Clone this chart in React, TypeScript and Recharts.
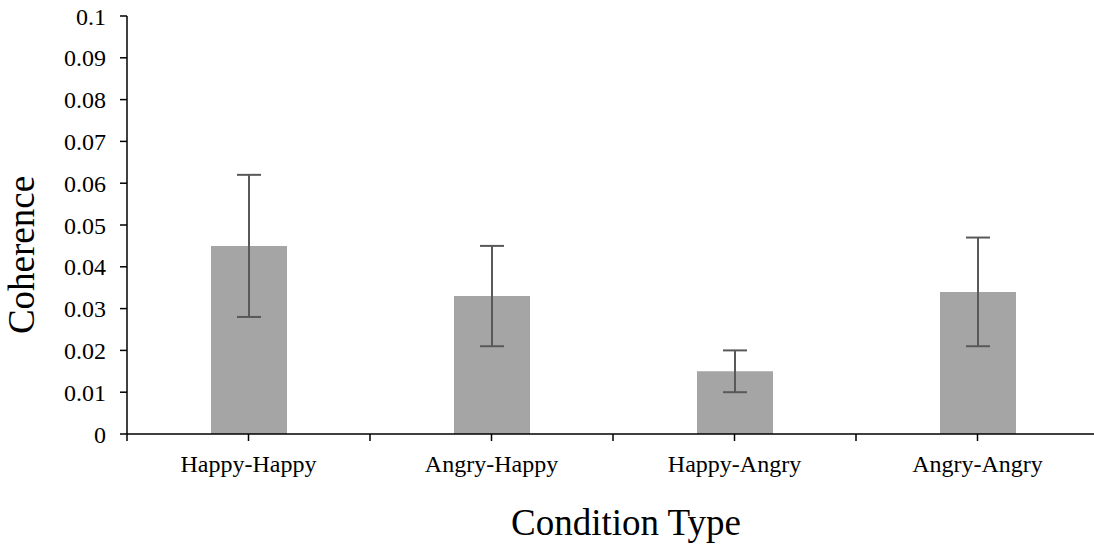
import React from 'react';
import { BarChart, Bar, XAxis, YAxis, ErrorBar, Label } from 'recharts';

const categories = ['Happy-Happy', 'Angry-Happy', 'Happy-Angry', 'Angry-Angry'];
const coherence = [0.045, 0.033, 0.015, 0.034];
const errorLow = [0.017, 0.012, 0.005, 0.013];
const errorHigh = [0.017, 0.012, 0.005, 0.013];
const yTicks = [0, 0.01, 0.02, 0.03, 0.04, 0.05, 0.06, 0.07, 0.08, 0.09, 0.1];

const data = categories.map((name, i) => ({
  name,
  value: coherence[i],
  err: [errorLow[i], errorHigh[i]],
}));

const FONT = '"Liberation Serif", "Times New Roman", serif';
const TICK_SIZE = 7;
const TICK_MARGIN = 14;

const XTick = (props: any) => {
  const { x, y, payload } = props;
  const off = payload && typeof payload.offset === 'number' ? payload.offset : 0;
  const axisY = y - TICK_SIZE - TICK_MARGIN;
  return (
    <g>
      <line x1={x - off} x2={x - off} y1={axisY} y2={axisY + TICK_SIZE} stroke="#000" strokeWidth={1.5} />
      <text x={x} y={y} dy="0.71em" textAnchor="middle" fontFamily={FONT} fontSize={24} fill="#000">
        {payload.value}
      </text>
    </g>
  );
};

export default function App() {
  return (
    <div style={{ position: 'absolute', left: 0, top: 0, width: 1094, height: 548, overflow: 'hidden', background: '#fff' }}>
      <BarChart width={1100} height={548} data={data} margin={{ top: 16, right: 1, left: 0, bottom: 0 }} barSize={76}>
        <XAxis
          dataKey="name"
          height={114}
          tick={<XTick />}
          tickSize={TICK_SIZE}
          tickMargin={TICK_MARGIN}
          tickLine={{ stroke: '#000', strokeWidth: 1.5 }}
          axisLine={{ stroke: '#000', strokeWidth: 1.5 }}
          interval={0}
        >
          <Label
            content={(p: any) => {
              const vb = p.viewBox || {};
              return (
                <text x={vb.x + vb.width / 2 + 13} y={vb.y + 101} textAnchor="middle" fontFamily={FONT} fontSize={37} fill="#000">
                  Condition Type
                </text>
              );
            }}
          />
        </XAxis>
        <YAxis
          width={127}
          domain={[0, 0.1]}
          ticks={yTicks}
          interval={0}
          tickFormatter={(v: number) => String(Number(v.toFixed(2)))}
          tick={{ fill: '#000', fontFamily: FONT, fontSize: 24 }}
          tickSize={TICK_SIZE}
          tickMargin={TICK_MARGIN}
          tickLine={{ stroke: '#000', strokeWidth: 1.5 }}
          axisLine={{ stroke: '#000', strokeWidth: 1.5 }}
        >
          <Label
            content={(p: any) => {
              const vb = p.viewBox || {};
              const cx = vb.x + 34;
              const cy = vb.y + vb.height / 2 + 30;
              return (
                <text x={cx} y={cy} transform={`rotate(-90 ${cx} ${cy})`} textAnchor="middle" fontFamily={FONT} fontSize={37} fill="#000">
                  Coherence
                </text>
              );
            }}
          />
        </YAxis>
        <Bar dataKey="value" fill="#a5a5a5" isAnimationActive={false}>
          <ErrorBar dataKey="err" width={12} stroke="#595959" strokeWidth={2} isAnimationActive={false} />
        </Bar>
      </BarChart>
    </div>
  );
}
